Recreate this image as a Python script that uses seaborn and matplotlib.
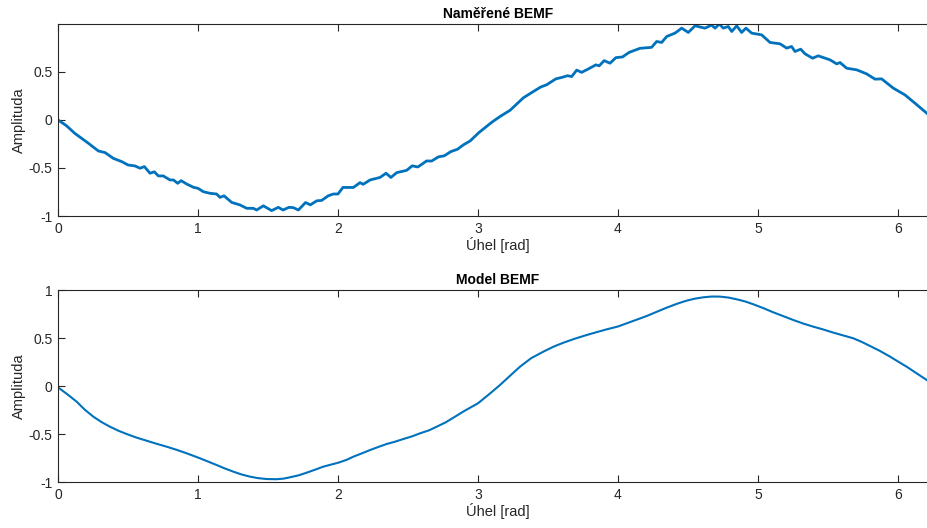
import numpy as np
import pandas as pd
import matplotlib
matplotlib.use("Agg")
import matplotlib.pyplot as plt
import seaborn as sns

# ---- data ----
meas_x = [0.0, 0.06, 0.12, 0.217, 0.288, 0.336, 0.395, 0.455, 0.50, 0.55, 0.586, 0.617,
          0.657, 0.688, 0.717, 0.752, 0.80, 0.825, 0.855, 0.879, 0.919, 0.967, 1.0, 1.038,
          1.086, 1.133, 1.157, 1.186, 1.24, 1.3, 1.348, 1.395, 1.419, 1.467, 1.526, 1.574,
          1.607, 1.650, 1.681, 1.717, 1.768, 1.803, 1.848, 1.883, 1.93, 1.967, 2.0, 2.035,
          2.11, 2.157, 2.18, 2.229, 2.3, 2.343, 2.378, 2.419, 2.49, 2.53, 2.57, 2.633,
          2.669, 2.717, 2.76, 2.806, 2.854, 2.895, 2.943, 3.008, 3.098, 3.157, 3.229, 3.324,
          3.395, 3.449, 3.49, 3.556, 3.604, 3.639, 3.669, 3.705, 3.74, 3.788, 3.842, 3.866,
          3.901, 3.943, 3.985, 4.032, 4.08, 4.157, 4.24, 4.276, 4.312, 4.348, 4.407, 4.455,
          4.502, 4.55, 4.621, 4.669, 4.693, 4.724, 4.752, 4.788, 4.812, 4.848, 4.883, 4.914,
          4.955, 5.026, 5.086, 5.157, 5.205, 5.24, 5.264, 5.305, 5.336, 5.39, 5.43, 5.514,
          5.562, 5.586, 5.633, 5.705, 5.776, 5.836, 5.883, 5.967, 6.05, 6.121, 6.205, 6.283]
meas_y = [0.0, -0.06, -0.14, -0.243, -0.323, -0.34, -0.40, -0.434, -0.469, -0.479, -0.503, -0.486,
          -0.555, -0.54, -0.583, -0.583, -0.625, -0.625, -0.66, -0.632, -0.667, -0.701, -0.712, -0.747,
          -0.764, -0.771, -0.806, -0.79, -0.858, -0.885, -0.92, -0.92, -0.9375, -0.894, -0.944, -0.91,
          -0.9375, -0.91, -0.913, -0.9375, -0.86, -0.884, -0.842, -0.838, -0.79, -0.771, -0.771, -0.703,
          -0.703, -0.653, -0.67, -0.625, -0.599, -0.555, -0.599, -0.549, -0.525, -0.478, -0.49, -0.427,
          -0.428, -0.385, -0.373, -0.33, -0.305, -0.26, -0.22, -0.13, -0.025, 0.035, 0.10, 0.23,
          0.295, 0.343, 0.365, 0.427, 0.444, 0.46, 0.451, 0.518, 0.495, 0.53, 0.573, 0.563,
          0.617, 0.59, 0.648, 0.655, 0.703, 0.745, 0.755, 0.816, 0.806, 0.868, 0.903, 0.955,
          0.91, 0.979, 0.955, 0.986, 0.955, 0.997, 0.955, 0.972, 0.92, 0.979, 0.91, 0.955,
          0.903, 0.885, 0.806, 0.792, 0.747, 0.764, 0.712, 0.736, 0.6875, 0.642, 0.667, 0.625,
          0.583, 0.597, 0.538, 0.521, 0.479, 0.424, 0.427, 0.33, 0.26, 0.174, 0.07, -0.02]

model_x = [0.0, 0.07, 0.133, 0.19, 0.252, 0.31, 0.371, 0.43, 0.49, 0.56, 0.633, 0.70, 0.776,
           0.85, 0.919, 1.014, 1.07, 1.133, 1.19, 1.252, 1.31, 1.371, 1.43, 1.49, 1.562,
           1.61, 1.657, 1.72, 1.776, 1.84, 1.895, 2.002, 2.06, 2.11, 2.17, 2.229, 2.29, 2.348,
           2.41, 2.467, 2.53, 2.586, 2.65, 2.705, 2.77, 2.824, 2.9, 3.0, 3.08, 3.157, 3.23,
           3.3, 3.38, 3.467, 3.54, 3.61, 3.69, 3.776, 3.85, 3.919, 4.0, 4.062, 4.13, 4.205,
           4.28, 4.348, 4.42, 4.49, 4.55, 4.61, 4.67, 4.729, 4.79, 4.848, 4.91, 4.967, 5.04,
           5.11, 5.18, 5.252, 5.32, 5.395, 5.47, 5.538, 5.61, 5.681, 5.74, 5.8, 5.87, 5.943,
           6.0, 6.062, 6.13, 6.205, 6.283]
model_y = [-0.014, -0.09, -0.163, -0.245, -0.319, -0.375, -0.424, -0.465, -0.5, -0.537, -0.57,
           -0.6, -0.632, -0.666, -0.701, -0.753, -0.786, -0.823, -0.858, -0.892, -0.921, -0.944,
           -0.960, -0.969, -0.971, -0.965, -0.951, -0.930, -0.903, -0.870, -0.84, -0.799, -0.770,
           -0.736, -0.702, -0.667, -0.634, -0.604, -0.579, -0.552, -0.524, -0.493, -0.462, -0.424,
           -0.378, -0.33, -0.262, -0.18, -0.085, 0.01, 0.108, 0.201, 0.29, 0.358, 0.41, 0.451,
           0.492, 0.531, 0.562, 0.59, 0.62, 0.653, 0.689, 0.729, 0.775, 0.816, 0.856, 0.889,
           0.910, 0.924, 0.932, 0.931, 0.921, 0.903, 0.880, 0.851, 0.810, 0.767, 0.728, 0.6875,
           0.652, 0.618, 0.587, 0.556, 0.526, 0.497, 0.460, 0.417, 0.366, 0.306, 0.255, 0.201,
           0.135, 0.0625, -0.02]

titles = ["Naměřené BEMF", "Model BEMF"]
xlabel = "Úhel [rad]"
ylabel = "Amplituda"
xticks = [0, 1, 2, 3, 4, 5, 6]
yticks_top = [-1, -0.5, 0, 0.5]
yticks_bot = [-1, -0.5, 0, 0.5, 1]

# ---- style ----
sns.set_style("white")
plt.rcParams["font.family"] = ["Liberation Sans", "DejaVu Sans"]
plt.rcParams["axes.unicode_minus"] = False

line_color = "#0072BD"
axis_color = "#262626"

fig = plt.figure(figsize=(9.28, 5.28), dpi=100)
W, H = 928.0, 528.0
left = 58 / W
width = (140 * 2 * np.pi) / W
ax1 = fig.add_axes([left, (H - 216) / H, width, 192 / H])
ax2 = fig.add_axes([left, (H - 482) / H, width, 192 / H])

df1 = pd.DataFrame({"x": meas_x, "y": meas_y})
df2 = pd.DataFrame({"x": model_x, "y": model_y})
sns.lineplot(data=df1, x="x", y="y", ax=ax1, color=line_color, linewidth=2.0,
             sort=False, estimator=None)
sns.lineplot(data=df2, x="x", y="y", ax=ax2, color=line_color, linewidth=1.5,
             sort=False, estimator=None)

def fmt(v):
    if float(v).is_integer():
        return str(int(v))
    return f"{v:g}"

for ax, title, yt, ylim in [(ax1, titles[0], yticks_top, (-1, 0.998)),
                            (ax2, titles[1], yticks_bot, (-1, 1))]:
    ax.set_xlim(0, 2 * np.pi)
    ax.set_ylim(*ylim)
    ax.set_xticks(xticks)
    ax.set_xticklabels([fmt(v) for v in xticks])
    ax.set_yticks(yt)
    ax.set_yticklabels([fmt(v) for v in yt])
    ax.set_title(title, fontsize=10, fontweight="bold", color="black", pad=4)
    ax.set_xlabel(xlabel, fontsize=10.5, color=axis_color, labelpad=1)
    ax.set_ylabel(ylabel, fontsize=10.5, color=axis_color, labelpad=2)
    ax.tick_params(direction="in", length=5, width=0.8, colors=axis_color,
                   labelsize=10, top=True, right=True, bottom=True, left=True, pad=4)
    for s in ax.spines.values():
        s.set_visible(True)
        s.set_color(axis_color)
        s.set_linewidth(0.8)
    ax.grid(False)

fig.savefig("out.png", dpi=100)
